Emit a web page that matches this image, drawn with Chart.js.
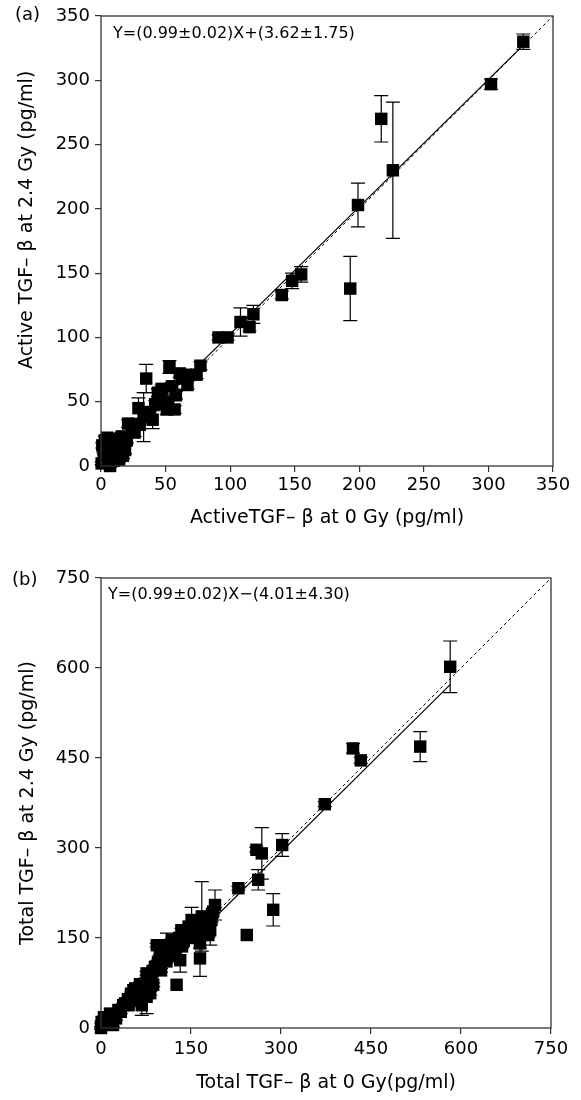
<!DOCTYPE html>
<html>
<head>
<meta charset="utf-8">
<script src="https://cdn.jsdelivr.net/npm/chart.js@4.4.0/dist/chart.umd.min.js"></script>
<style>
    body { margin: 0; background: #fff; }
    #wrapA { position: absolute; left: 0; top: 0; width: 581px; height: 540px; }
    #wrapB { position: absolute; left: 0; top: 540px; width: 581px; height: 560px; }
</style>
</head>
<body>
<div id="wrapA"><canvas id="chartA"></canvas></div>
<div id="wrapB"><canvas id="chartB"></canvas></div>
<script>
// Panel (a): active TGF-beta, 0 Gy vs 2.4 Gy (pg/ml), with +/- error
const activeX0 = [327, 302, 217, 226, 199, 193, 155, 148, 140, 118, 115, 108, 98, 91, 77, 74, 66, 67, 61, 53,
    58, 57, 51, 46, 47, 35, 29, 40, 33, 21, 24, 16, 3, 11, 2, 18.6, 8, 0.5, 7, 12, 1, 5, 14, 52, 63, 44,
    3, 6, 10, 14, 20, 26, 30, 38, 42, 55, 9, 17, 4];
const activeY24 = [330, 297, 270, 230, 203, 138, 149, 144, 133, 118, 108, 112, 100, 100, 78, 71, 71, 63, 72, 77,
    55, 44, 44, 53, 60, 68, 45, 36, 38, 33, 28, 23, 20, 17.6, 12, 12.4, 6, 2, 0, 10, 16, 22, 5, 50, 68, 57,
    8, 13, 4, 16, 20, 26, 32, 42, 48, 62, 21, 8, 3];
const activeErr = [6, 4, 18, 53, 17, 25, 6, 6, 3, 7, 3, 11, 2, 2, 3, 3, 2, 3, 3, 5,
    3, 3, 4, 3, 3, 11, 8, 7, 19, 3, 3, 3, 3, 3, 2, 3, 2, 1, 1, 2, 2, 2, 2, 4, 3, 3,
    1, 2, 1, 2, 2, 3, 3, 3, 3, 3, 2, 2, 1];

// Panel (b): total TGF-beta
const totalX0 = [582, 420, 433, 532, 373, 302, 268, 259, 262, 229, 287, 243, 190, 187, 184, 182, 168, 165, 151, 146,
    148, 179, 170, 165, 165, 134, 126, 110, 93, 126, 132, 104, 93, 84, 71, 76, 60, 54, 40, 29,
    15, 7, 20, 0, 12, 1, 37, 57, 68, 57, 73, 82, 76, 90, 98, 104, 118, 129, 140, 109,
    87, 46, 121, 135, 143, 118,
    25, 33, 45, 50, 63, 65, 70, 80, 86, 95, 100, 112, 115, 124, 130, 138, 152, 156, 160, 174, 185, 5, 18];
const totalY24 = [602, 466, 446, 469, 373, 305, 291, 297, 247, 233, 197, 155, 205, 194, 180, 163, 186, 169, 180, 169,
    155, 155, 155, 141, 116, 163, 144, 138, 138, 72, 113, 130, 102, 86, 69, 52, 52, 63, 41, 30,
    24, 10, 5, 0, 13, 10, 38, 49, 38, 66, 74, 58, 91, 102, 119, 136, 147, 141, 158, 111,
    72, 38, 136, 136, 158, 120,
    16, 27, 48, 57, 46, 73, 56, 80, 95, 110, 96, 126, 134, 128, 150, 145, 166, 150, 176, 170, 190, 18, 20];
const totalErr = [43, 8, 5, 25, 4, 19, 43, 4, 17, 3, 27, 0, 25, 3, 3, 25, 58, 3, 21, 3,
    3, 3, 3, 8, 30, 3, 3, 20, 3, 0, 20, 3, 3, 3, 3, 28, 3, 3, 3, 3,
    3, 3, 3, 2, 2, 2, 3, 3, 17, 3, 3, 3, 3, 3, 3, 3, 3, 3, 3, 3,
    3, 3, 3, 3, 3, 3,
    3, 3, 3, 3, 3, 3, 3, 3, 3, 3, 3, 3, 3, 3, 3, 3, 3, 3, 3, 3, 3, 2, 2];

// Fitted lines (solid) and identity lines (dashed)
const activeFitLine = [{ x: 0, y: 3.62 }, { x: 327, y: 327.35 }];
const activeIdentity = [{ x: 0, y: 0 }, { x: 350, y: 350 }];
const totalFitLine = [{ x: 4.05, y: 0 }, { x: 582, y: 572.17 }];
const totalIdentity = [{ x: 0, y: 0 }, { x: 750, y: 750 }];

const activeTicks = [0, 50, 100, 150, 200, 250, 300, 350];
const totalTicks = [0, 150, 300, 450, 600, 750];

const FONT = 'DejaVu Sans';

// error bars, frame, panel letter and equation
const panelDecor = {
    id: 'panelDecor',
    beforeDatasetsDraw(chart, args, opts) {
        const { ctx } = chart;
        const xs = chart.scales.x, ys = chart.scales.y;
        ctx.save();
        ctx.strokeStyle = '#000';
        ctx.lineWidth = 1.2;
        opts.xs.forEach((xv, i) => {
            const e = opts.errs[i];
            if (!e) return;
            const px = xs.getPixelForValue(xv);
            const top = ys.getPixelForValue(opts.ys[i] + e);
            const bot = ys.getPixelForValue(opts.ys[i] - e);
            ctx.beginPath();
            ctx.moveTo(px, top); ctx.lineTo(px, bot);
            ctx.moveTo(px - 7, top); ctx.lineTo(px + 7, top);
            ctx.moveTo(px - 7, bot); ctx.lineTo(px + 7, bot);
            ctx.stroke();
        });
        ctx.restore();
    },
    afterDraw(chart, args, opts) {
        const { ctx, chartArea: a } = chart;
        ctx.save();
        ctx.strokeStyle = '#333';
        ctx.lineWidth = 1.3;
        ctx.strokeRect(a.left, a.top, a.right - a.left, a.bottom - a.top);
        ctx.fillStyle = '#000';
        ctx.textBaseline = 'middle';
        ctx.textAlign = 'left';
        ctx.font = '18px "' + FONT + '"';
        ctx.fillText(opts.letter, opts.letterPos[0], opts.letterPos[1]);
        ctx.font = '16px "' + FONT + '"';
        ctx.fillText(opts.equation, opts.eqPos[0], opts.eqPos[1]);
        ctx.restore();
    }
};

function makePanel(canvasId, cfg) {
    const ctx = document.getElementById(canvasId).getContext('2d');
    return new Chart(ctx, {
        type: 'scatter',
        data: {
            datasets: [{
                data: cfg.xs.map((x, i) => ({ x: x, y: cfg.ys[i] })),
                pointStyle: 'rect',
                pointRadius: 8.8,
                pointHoverRadius: 8.8,
                backgroundColor: '#000',
                borderColor: '#000',
                borderWidth: 0,
                clip: false
            }, {
                type: 'line',
                data: cfg.fit,
                borderColor: '#000',
                borderWidth: 1.2,
                pointRadius: 0,
                fill: false
            }, {
                type: 'line',
                data: cfg.identity,
                borderColor: '#000',
                borderWidth: 1,
                borderDash: [3, 3],
                pointRadius: 0,
                fill: false
            }]
        },
        options: {
            responsive: true,
            maintainAspectRatio: false,
            animation: false,
            layout: { padding: { top: cfg.padTop, right: cfg.padRight, left: 0, bottom: 0 } },
            plugins: {
                legend: { display: false },
                tooltip: { enabled: false },
                panelDecor: {
                    xs: cfg.xs, ys: cfg.ys, errs: cfg.errs,
                    letter: cfg.letter, letterPos: cfg.letterPos,
                    equation: cfg.equation, eqPos: cfg.eqPos
                }
            },
            scales: {
                x: {
                    type: 'linear',
                    min: cfg.ticks[0],
                    max: cfg.ticks[cfg.ticks.length - 1],
                    afterBuildTicks: (s) => { s.ticks = cfg.ticks.map(v => ({ value: v })); },
                    afterFit: (s) => { s.height = cfg.xAxisHeight; },
                    border: { display: false },
                    grid: { drawOnChartArea: false, drawTicks: true, tickLength: 6, color: '#333', lineWidth: 1.2 },
                    ticks: { color: '#000', padding: cfg.xTickPad, maxRotation: 0, font: { family: FONT, size: 18 } },
                    title: {
                        display: true,
                        text: cfg.xTitle,
                        color: '#000',
                        font: { family: FONT, size: 19 },
                        padding: { top: 0, bottom: cfg.xTitlePad }
                    }
                },
                y: {
                    type: 'linear',
                    min: cfg.ticks[0],
                    max: cfg.ticks[cfg.ticks.length - 1],
                    afterBuildTicks: (s) => { s.ticks = cfg.ticks.map(v => ({ value: v })); },
                    afterFit: (s) => { s.width = 101; },
                    border: { display: false },
                    grid: { drawOnChartArea: false, drawTicks: true, tickLength: 6, color: '#333', lineWidth: 1.2 },
                    ticks: { color: '#000', padding: 5, font: { family: FONT, size: 18 } },
                    title: {
                        display: true,
                        text: cfg.yTitle,
                        color: '#000',
                        font: { family: FONT, size: 19 },
                        padding: { top: cfg.yTitlePad, bottom: 0 }
                    }
                }
            }
        },
        plugins: [panelDecor]
    });
}

document.addEventListener('DOMContentLoaded', () => {
    makePanel('chartA', {
        xs: activeX0, ys: activeY24, errs: activeErr,
        fit: activeFitLine, identity: activeIdentity, ticks: activeTicks,
        padTop: 16, padRight: 28, xAxisHeight: 74, xTickPad: 3, xTitlePad: 10.6, yTitlePad: 15.6,
        xTitle: 'ActiveTGF\u2013 \u03b2 at 0 Gy (pg/ml)',
        yTitle: '       Active TGF\u2013 \u03b2 at 2.4 Gy (pg/ml)',
        letter: '(a)', letterPos: [15, 15],
        equation: 'Y=(0.99\u00b10.02)X+(3.62\u00b11.75)', eqPos: [113, 34]
    });
    makePanel('chartB', {
        xs: totalX0, ys: totalY24, errs: totalErr,
        fit: totalFitLine, identity: totalIdentity, ticks: totalTicks,
        padTop: 38, padRight: 30, xAxisHeight: 72, xTickPad: 5, xTitlePad: 5.6, yTitlePad: 16.6,
        xTitle: 'Total TGF\u2013 \u03b2 at 0 Gy(pg/ml)',
        yTitle: 'Total TGF\u2013 \u03b2 at 2.4 Gy (pg/ml)',
        letter: '(b)', letterPos: [12, 40],
        equation: 'Y=(0.99\u00b10.02)X\u2212(4.01\u00b14.30)', eqPos: [108, 55]
    });
});
</script>
</body>
</html>
